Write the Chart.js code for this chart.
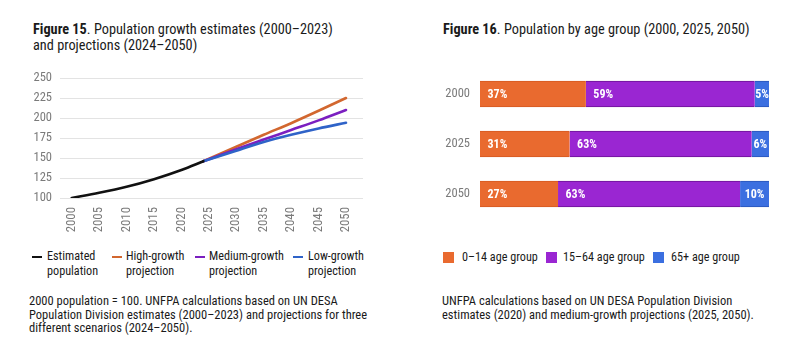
<!DOCTYPE html>
<html><head><meta charset="utf-8">
<script src="https://cdn.jsdelivr.net/npm/chart.js@4.4.1/dist/chart.umd.min.js"></script>
<style>
html,body{margin:0;padding:0;background:#fff;width:808px;height:342px;overflow:hidden;}
body{position:relative;font-family:"Roboto Condensed","Liberation Sans Narrow","Arial Narrow",Roboto,sans-serif;color:#1a1a1a;}
.abs{position:absolute;}
.title{font-size:14.3px;line-height:16px;}
.title b{font-weight:700;}
.leg{font-size:12.2px;line-height:15px;}
.note{font-size:12.5px;line-height:13.5px;}
.ln{position:absolute;width:10px;height:2px;}
.sq{position:absolute;width:11px;height:11px;}
</style></head><body>
<div class="abs title" style="left:33px;top:21px;"><b>Figure 15</b>. Population growth estimates (2000–2023)<br>and projections (2024–2050)</div>
<div class="abs title" style="left:443px;top:21px;"><b>Figure 16</b>. Population by age group (2000, 2025, 2050)</div>

<div class="abs" style="left:0;top:0;width:400px;height:245px;"><canvas id="c1" width="400" height="245"></canvas></div>
<div class="abs" style="left:420px;top:0;width:388px;height:240px;"><canvas id="c2" width="388" height="240"></canvas></div>

<div class="ln" style="left:32px;top:256px;background:#111;"></div>
<div class="abs leg" style="left:47px;top:249px;">Estimated<br>population</div>
<div class="ln" style="left:112px;top:256px;background:#d2672f;"></div>
<div class="abs leg" style="left:126px;top:249px;">High-growth<br>projection</div>
<div class="ln" style="left:195px;top:256px;background:#7b1fc0;"></div>
<div class="abs leg" style="left:209px;top:249px;">Medium-growth<br>projection</div>
<div class="ln" style="left:293px;top:256px;background:#2f63c8;"></div>
<div class="abs leg" style="left:308px;top:249px;">Low-growth<br>projection</div>

<div class="abs note" style="left:29px;top:294px;">2000 population = 100. UNFPA calculations based on UN DESA<br>Population Division estimates (2000–2023) and projections for three<br>different scenarios (2024–2050).</div>

<div class="sq" style="left:443px;top:252px;background:#e96a2f;"></div>
<div class="abs leg" style="left:462px;top:250px;">0–14 age group</div>
<div class="sq" style="left:546px;top:252px;background:#9a26d2;"></div>
<div class="abs leg" style="left:563px;top:250px;">15–64 age group</div>
<div class="sq" style="left:653px;top:252px;background:#3b6fe0;"></div>
<div class="abs leg" style="left:671px;top:250px;">65+ age group</div>

<div class="abs note" style="left:442px;top:294px;">UNFPA calculations based on UN DESA Population Division<br>estimates (2020) and medium-growth projections (2025, 2050).</div>

<script>
// ---- Figure 15 data ----
const estYears = [2000, 2005, 2010, 2015, 2020, 2024];
const estValues = [100, 106.5, 114, 123.5, 135, 146];
const projYears = [2024, 2030, 2035, 2040, 2045, 2050];
const highValues = [146, 164, 179, 193.5, 209, 225];
const mediumValues = [146, 161, 173, 185, 197, 210];
const lowValues = [146, 159, 170, 179, 187, 194];
const xTickLabels = ['2000','2005','2010','2015','2020','2025','2030','2035','2040','2045','2050'];
const yTickLabels = ['100','125','150','175','200','225','250'];

// ---- Figure 16 data ----
const ageYears = ['2000', '2025', '2050'];
const ageGroups = ['0–14 age group', '15–64 age group', '65+ age group'];
const young = [37, 31, 27];
const working = [59, 63, 63];
const old = [5, 6, 10];

const FONT = '"Roboto Condensed","Liberation Sans Narrow","Arial Narrow",Roboto,sans-serif';
Chart.defaults.font.family = FONT;
Chart.defaults.animation = false;

const pts = (xs, ys) => xs.map((x, i) => ({x: x, y: ys[i]}));
function lineDs(label, xs, ys, color, order){
  return {label, data: pts(xs, ys), borderColor: color, backgroundColor: color, borderWidth: 2.6,
    pointRadius: 0, cubicInterpolationMode: 'monotone', order, fill: false, borderCapStyle: 'round'};
}

new Chart(document.getElementById('c1'), {
  type: 'line',
  data: { datasets: [
    lineDs('Estimated population', estYears, estValues, '#111111', 0),
    lineDs('High-growth projection', projYears, highValues, '#d2672f', 3),
    lineDs('Medium-growth projection', projYears, mediumValues, '#7b1fc0', 2),
    lineDs('Low-growth projection', projYears, lowValues, '#2f63c8', 1)
  ]},
  options: {
    responsive: false, maintainAspectRatio: false,
    layout: { padding: { left: 0, right: 37, top: 78, bottom: 5 } },
    plugins: { legend: { display: false }, tooltip: { enabled: false } },
    scales: {
      x: { type: 'linear', min: 1997.87, max: 2053.1,
        grid: { display: false, drawTicks: false }, border: { display: false },
        afterBuildTicks: s => { s.ticks = xTickLabels.map(v => ({value: +v})); },
        afterFit: s => { s.height = 42; },
        ticks: { autoSkip: false, minRotation: 90, maxRotation: 90, padding: 9, color: '#7a7a7a',
          font: { size: 12.8 }, callback: v => String(v) } },
      y: { min: 100, max: 250,
        grid: { color: '#e3e3e3', lineWidth: 1, drawTicks: false }, border: { display: false },
        afterBuildTicks: s => { s.ticks = yTickLabels.map(v => ({value: +v})); },
        afterFit: s => { s.width = 60; },
        ticks: { padding: 8, color: '#7a7a7a', font: { size: 12.5 }, callback: v => String(v) } }
    }
  }
});

const ageValues = [young, working, old];
const ageColors = ['#e96a2f', '#9a26d2', '#3b6fe0'];
const ageBorders = ['#d45a22', '#6c1396', '#2a55b8'];
const totals = ageYears.map((_, j) => ageValues.reduce((s, a) => s + a[j], 0));

const barLabels = {
  id: 'barLabels',
  afterDatasetsDraw(chart) {
    const ctx = chart.ctx;
    ctx.save();
    ctx.font = 'bold 12px ' + FONT;
    ctx.fillStyle = '#ffffff';
    ctx.textBaseline = 'middle';
    ctx.textAlign = 'left';
    chart.data.datasets.forEach((ds, i) => {
      chart.getDatasetMeta(i).data.forEach((bar, j) => {
        const txt = ageValues[i][j] + '%';
        const w = bar.x - bar.base;
        const tw = ctx.measureText(txt).width;
        const pad = Math.max(0.5, Math.min(7.5, (w - tw) / 2));
        ctx.fillText(txt, bar.base + pad, bar.y + 0.5);
      });
    });
    ctx.restore();
  }
};

new Chart(document.getElementById('c2'), {
  type: 'bar',
  data: { labels: ageYears, datasets: ageGroups.map((g, i) => ({
    label: g, data: ageValues[i].map((v, j) => v / totals[j] * 100),
    backgroundColor: ageColors[i], borderColor: ageBorders[i],
    borderWidth: {top: 1, bottom: 1, left: 0, right: 0}, borderSkipped: false,
    barThickness: 26 })) },
  options: {
    indexAxis: 'y', responsive: false, maintainAspectRatio: false,
    layout: { padding: { left: 0, right: 39, top: 69, bottom: 21 } },
    plugins: { legend: { display: false }, tooltip: { enabled: false } },
    scales: {
      x: { stacked: true, min: 0, max: 100, display: false },
      y: { stacked: true, grid: { display: false, drawTicks: false }, border: { display: false },
        afterFit: s => { s.width = 60; },
        ticks: { padding: 10, color: '#7a7a7a', font: { size: 12.5 } } }
    }
  },
  plugins: [barLabels]
});
</script>
</body></html>
